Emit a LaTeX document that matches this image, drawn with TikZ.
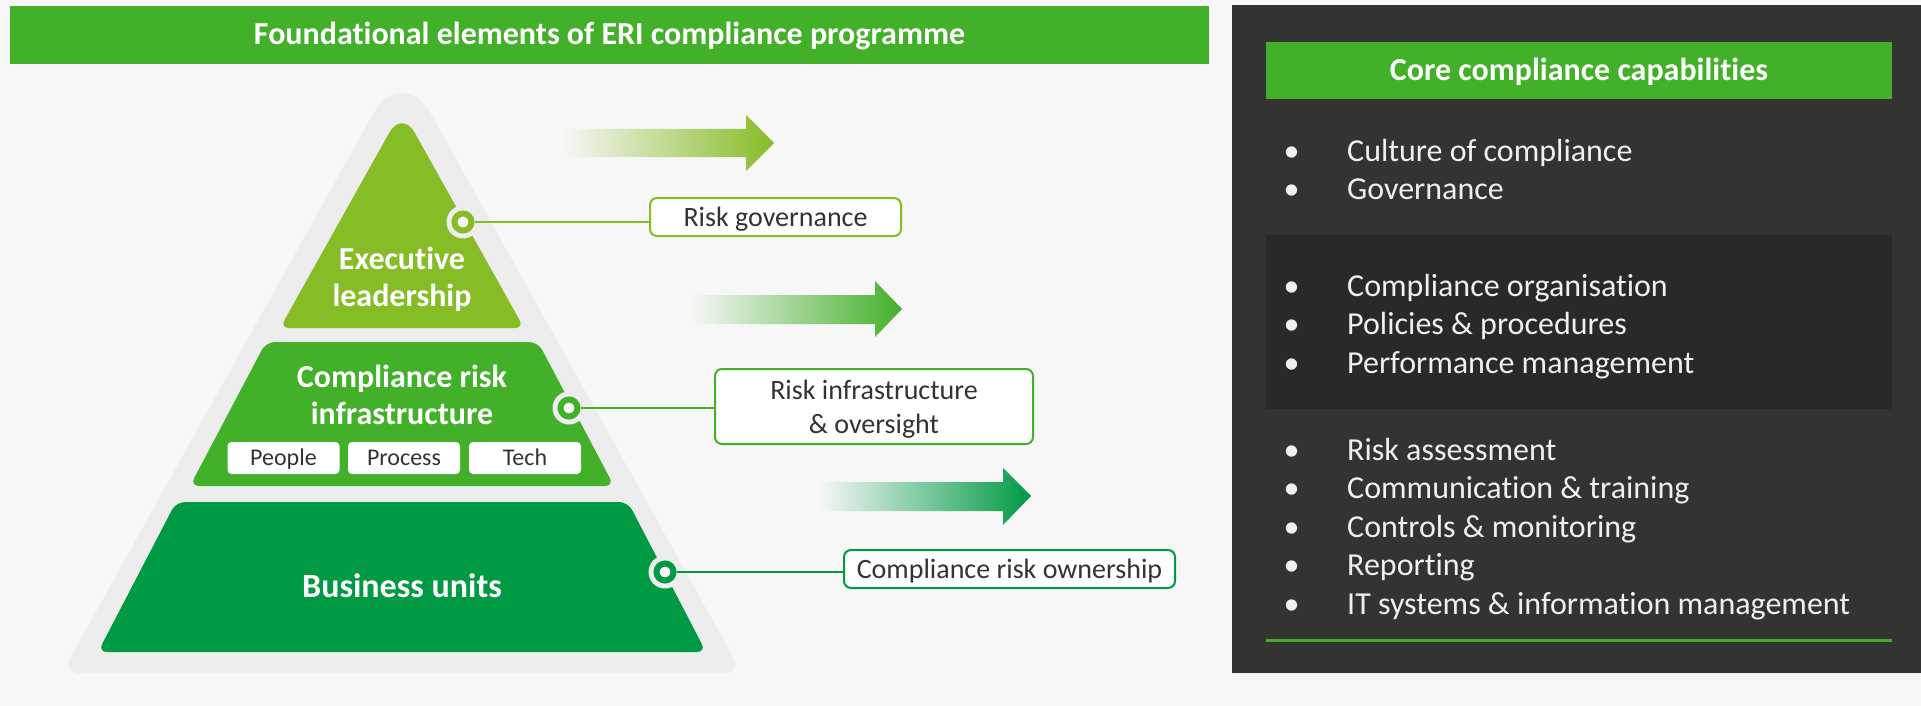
\documentclass[tikz,border=0pt]{standalone}
\usepackage{fontspec}
\setmainfont{Carlito}[Ligatures=NoCommon]
\definecolor{bgc}{HTML}{F7F7F7}
\definecolor{band}{HTML}{EDEDED}
\definecolor{gA}{HTML}{86BC25}
\definecolor{gB}{HTML}{43B02A}
\definecolor{gC}{HTML}{009A44}
\definecolor{panel}{HTML}{333332}
\definecolor{paneldark}{HTML}{28292B}
\definecolor{txtdark}{HTML}{333333}
\definecolor{pantext}{HTML}{F0F0F0}
\tikzset{
  bigbold/.style={font=\bfseries\fontsize{32}{37}\selectfont, text=white, align=center, inner sep=0pt},
  bartitle/.style={fill=gB, text=white, font=\bfseries\fontsize{32}{38}\selectfont, inner sep=0pt, text height=20pt, text depth=0pt},
  tagbox/.style={fill=white, rounded corners=4pt, minimum width=112, minimum height=32, inner sep=0pt, text=txtdark, font=\fontsize{24}{28}\selectfont, text height=15pt, text depth=0pt},
  lblbox/.style={draw, line width=2pt, fill=white, rounded corners=7pt, inner sep=0pt, text=txtdark, align=center, font=\fontsize{28}{34}\selectfont, text depth=0pt},
  halo/.style={circle, fill=band, minimum size=33, inner sep=0pt},
  ring/.style={circle, draw, line width=6pt, fill=bgc, minimum size=17, inner sep=0pt},
  conn/.style={line width=2pt},
  item/.style={anchor=base west, inner sep=0pt, text=pantext, font=\fontsize{32}{38}\selectfont},
  bul/.style={anchor=base, inner sep=0pt, text=pantext, font=\fontsize{32}{38}\selectfont},
}
\begin{document}
\begin{tikzpicture}[x=1pt,y=-1pt]
\useasboundingbox (0,0) rectangle (1921,706);
\fill[bgc] (0,0) rectangle (1921,706);

% title bar
\node[bartitle, minimum width=1199, minimum height=58] (tbar) at (609.5,35) {Foundational elements of ERI compliance programme};

% pyramid
\fill[band] (232,367.5) [rounded corners=60pt] -- (402,62) [rounded corners=18pt] -- (742,673) -- (62,673) -- cycle;
\fill[gA] (341,219) [rounded corners=26pt] -- (402,110) [rounded corners=9pt] -- (524,328) -- (280,328) -- cycle;
\fill[gB, rounded corners=9pt] (228,414) -- (266,342) -- (538,342) -- (614,486) -- (190,486) -- cycle;
\fill[gC, rounded corners=9pt] (137,577) -- (176,502) -- (628,502) -- (706,652) -- (98,652) -- cycle;

\node[bigbold, text depth=0pt] (exec) at (402,277) {Executive\\leadership};
\node[bigbold] (cri) at (402,395) {Compliance risk\\infrastructure};
\node[tagbox] (ppl) at (283.5,458) {People};
\node[tagbox] (prc) at (404,458) {Process};
\node[tagbox] (tch) at (525,458) {Tech};
\node[bigbold, font=\bfseries\fontsize{34}{40}\selectfont] (bu) at (402,586) {Business units};

% arrows
\shade[left color=bgc, middle color=gA!40!bgc, right color=gA] (563,129) -- (746,129) -- (746,115) -- (774,143) -- (746,171) -- (746,157) -- (563,157) -- cycle;
\shade[left color=bgc, middle color=gB!40!bgc, right color=gB] (691,295) -- (875,295) -- (875,281) -- (902,309) -- (875,337) -- (875,324) -- (691,324) -- cycle;
\shade[left color=bgc, middle color=gC!40!bgc, right color=gC] (819,482) -- (1003,482) -- (1003,468) -- (1031,496) -- (1003,525) -- (1003,511) -- (819,511) -- cycle;

% labels
\node[lblbox, draw=gA, minimum width=251, minimum height=38] (b1) at (775.5,217) {Risk governance};
\node[lblbox, draw=gB, minimum width=318, minimum height=75] (b2) at (874,406.5) {Risk infrastructure\\\& oversight};
\node[lblbox, draw=gC, minimum width=331, minimum height=38] (b3) at (1009.5,569) {Compliance risk ownership};

% connector dots
\node[halo] (h1) at (463,222) {};
\node[ring, draw=gA] (c1) at (463,222) {};
\node[halo] (h2) at (569,408) {};
\node[ring, draw=gB] (c2) at (569,408) {};
\node[halo] (h3) at (665,572) {};
\node[ring, draw=gC] (c3) at (665,572) {};
\draw[conn, gA] (c1.east) -- (c1.east -| b1.west);
\draw[conn, gB] (c2.east) -- (c2.east -| b2.west);
\draw[conn, gC] (c3.east) -- (c3.east -| b3.west);

% right panel
\fill[panel] (1232,5) rectangle (1921,673);
\fill[paneldark] (1266,235) rectangle (1892,409);
\node[bartitle, minimum width=626, minimum height=57] (hdr) at (1579,70.5) {Core compliance capabilities};
\draw[gB, line width=3pt] (1266,640) -- (1892,640);

\foreach \t/\y [count=\i] in {Culture of compliance/161, Governance/199.5, Compliance organisation/296, Policies \& procedures/334.5, Performance management/373, Risk assessment/460, Communication \& training/498.5, Controls \& monitoring/537, Reporting/575.5, IT systems \& information management/614}{
  \node[bul] (bl\i) at (1291.5,\y) {•};
  \node[item] (it\i) at (1347,\y) {\t};
}
\end{tikzpicture}
\end{document}
